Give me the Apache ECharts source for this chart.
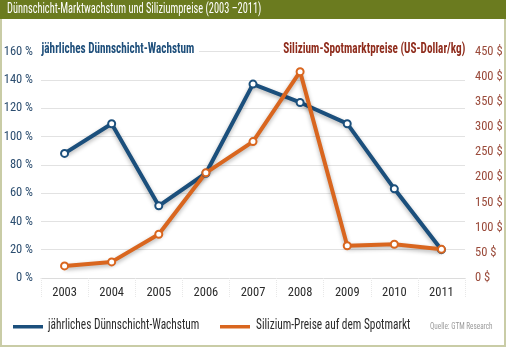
<!DOCTYPE html>
<html><head><meta charset="utf-8">
<script src="https://cdn.jsdelivr.net/npm/echarts@6/dist/echarts.min.js"></script>
<style>html,body{margin:0;padding:0;background:#fff}#c{width:506px;height:349px}</style>
</head><body><div id="c"></div>
<script>
var years = ['2003','2004','2005','2006','2007','2008','2009','2010','2011'];
var growth = [88, 109, 51, 74, 137, 124, 109, 63, 20];
var prices = [24, 32, 87, 209, 271, 410, 64, 67, 57];
var leftTicks = [0, 20, 40, 60, 80, 100, 120, 140, 160];
var rightTicks = [0, 50, 100, 150, 200, 250, 300, 350, 400, 450];
var seriesNames = ['jährliches Dünnschicht-Wachstum', 'Silizium-Preise auf dem Spotmarkt'];

var FONT = '"Roboto Condensed", sans-serif';
var BLUE = '#1b4f7c', ORANGE = '#d9661f';
var chart = echarts.init(document.getElementById('c'), null, {renderer:'canvas'});
chart.setOption({
  animation: false,
  textStyle: {fontFamily: FONT},
  grid: {left: 41, right: 41, top: 51.5, bottom: 71},
  xAxis: {
    type: 'category', data: years, boundaryGap: true,
    axisLine: {lineStyle: {color: '#dcdcdc'}},
    axisTick: {show: true, length: 20, lineStyle: {color: '#e8e8e8', type: 'dotted'}},
    axisLabel: {color: '#2b2b2b', fontSize: 12.5, margin: 8, fontFamily: FONT}
  },
  yAxis: [{
    type: 'value', min: 0, max: 160, interval: 20,
    axisLine: {show: false}, axisTick: {show: false},
    splitLine: {lineStyle: {color: '#e2e2e2'}},
    axisLabel: {color: '#2c4e70', fontSize: 12.5, margin: 8, fontFamily: FONT,
      padding: [0,0,8,0], formatter: function(v){return v + ' %';}}
  },{
    type: 'value', min: 0, max: 450, interval: 50,
    axisLine: {show: false}, axisTick: {show: false}, splitLine: {show: false},
    axisLabel: {color: '#9a4a3a', fontSize: 12.5, margin: 10, fontFamily: FONT,
      padding: [0,0,8,0], formatter: function(v){return v + ' $';}}
  }],
  series: [{
    name: seriesNames[0], type: 'line', yAxisIndex: 0, data: growth,
    symbol: 'circle', symbolSize: 7, showAllSymbol: true,
    lineStyle: {color: BLUE, width: 4, shadowColor: 'rgba(0,0,0,0.3)', shadowBlur: 4, shadowOffsetY: 2},
    itemStyle: {color: '#fff', borderColor: BLUE, borderWidth: 2}
  },{
    name: seriesNames[1], type: 'line', yAxisIndex: 1, data: prices,
    symbol: 'circle', symbolSize: 7, showAllSymbol: true,
    lineStyle: {color: ORANGE, width: 4, shadowColor: 'rgba(0,0,0,0.3)', shadowBlur: 4, shadowOffsetY: 2},
    itemStyle: {color: '#fff', borderColor: ORANGE, borderWidth: 2}
  }],
  graphic: [
    {type: 'rect', z: 0, shape: {x: 1, y: 0, width: 504, height: 346}, style: {fill: 'none', stroke: '#c9cca6', lineWidth: 2}},
    {type: 'rect', z: 10, shape: {x: 0, y: 0, width: 506, height: 19}, style: {fill: '#6b7b1f'}},
    {type: 'text', z: 11, x: 7, y: 2, scaleX: 0.74, style: {text: 'Dünnschicht-Marktwachstum und Siliziumpreise (2003 –2011)', fill: '#fff', fontSize: 14, fontFamily: FONT}},
    {type: 'text', z: 11, x: 40, y: 40, scaleX: 0.8, style: {text: 'jährliches Dünnschicht-Wachstum', fill: '#1d4e7a', fontSize: 14, fontWeight: 'bold', fontFamily: FONT, backgroundColor: '#fff', padding: [2,6,2,2]}},
    {type: 'text', z: 11, x: 280, y: 40, scaleX: 0.8, style: {text: 'Silizium-Spotmarktpreise (US-Dollar/kg)', fill: '#8f2c1c', fontSize: 14, fontWeight: 'bold', fontFamily: FONT, backgroundColor: '#fff', padding: [2,6,2,4]}},
    {type: 'rect', z: 11, shape: {x: 13, y: 325, width: 30, height: 3.5}, style: {fill: BLUE}},
    {type: 'text', z: 11, x: 48, y: 318, scaleX: 0.81, style: {text: seriesNames[0], fill: '#2b2b2b', fontSize: 14, fontFamily: FONT}},
    {type: 'rect', z: 11, shape: {x: 220, y: 325, width: 30, height: 3.5}, style: {fill: ORANGE}},
    {type: 'text', z: 11, x: 256, y: 318, scaleX: 0.81, style: {text: seriesNames[1], fill: '#2b2b2b', fontSize: 14, fontFamily: FONT}},
    {type: 'text', z: 11, x: 430, y: 322, scaleX: 0.8, style: {text: 'Quelle: GTM Research', fill: '#9a9a9a', fontSize: 9, fontFamily: FONT}}
  ]
});
</script></body></html>
